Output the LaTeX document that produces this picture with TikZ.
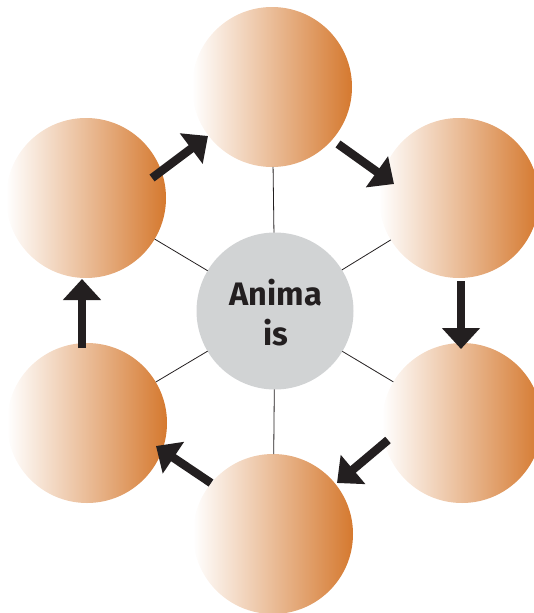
\documentclass[tikz,border=0pt]{standalone}
\usepackage{fontspec}
\setsansfont{Fira Sans}
\usetikzlibrary{arrows.meta}
\definecolor{orng}{RGB}{213,121,47}
\definecolor{ink}{RGB}{35,31,32}
\definecolor{hubgray}{RGB}{209,211,212}
\begin{document}
\begin{tikzpicture}[x=1pt,y=-1pt,
  orb/.style={circle,minimum size=160pt,inner sep=0pt,outer sep=0pt,left color=white,right color=orng,draw=none},
  hub/.style={circle,minimum size=157pt,inner sep=0pt,outer sep=0pt,fill=hubgray,draw=none},
  spoke/.style={draw=ink,line width=0.8pt},
  flow/.style={draw=ink,line width=8.5pt,-{Triangle[width=37pt,length=21pt]}},
  caption/.style={font=\sffamily\bfseries\fontsize{32.5}{40}\selectfont,text=ink,align=center,inner sep=0pt}]
\useasboundingbox (0,0) rectangle (534,613);
\node[hub] (ctr) at (275,311) {};
\node[caption] (lbl) at (276,313) {Anima\\is};
\node[orb] (top) at (272,87) {};
\node[orb] (ur) at (459,198) {};
\node[orb] (lr) at (462,423) {};
\node[orb] (bot) at (273,534) {};
\node[orb] (ll) at (87,423) {};
\node[orb] (ul) at (86,198) {};
\draw[spoke] (ctr) -- (top);
\draw[spoke] (ctr) -- (ur);
\draw[spoke] (ctr) -- (lr);
\draw[spoke] (ctr) -- (bot);
\draw[spoke] (ctr) -- (ll);
\draw[spoke] (ctr) -- (ul);
\coordinate (a1s) at (152,178); \coordinate (a1e) at (208,136);
\coordinate (a2s) at (338,144); \coordinate (a2e) at (394,184);
\coordinate (a3s) at (461,281); \coordinate (a3e) at (461,349);
\coordinate (a4s) at (388,440); \coordinate (a4e) at (337,483);
\coordinate (a5s) at (211,483); \coordinate (a5e) at (156,446);
\coordinate (a6s) at (82,348);  \coordinate (a6e) at (82,279);
\draw[flow] (a1s) -- (a1e);
\draw[flow] (a2s) -- (a2e);
\draw[flow] (a3s) -- (a3e);
\draw[flow] (a4s) -- (a4e);
\draw[flow] (a5s) -- (a5e);
\draw[flow] (a6s) -- (a6e);
\end{tikzpicture}
\end{document}
